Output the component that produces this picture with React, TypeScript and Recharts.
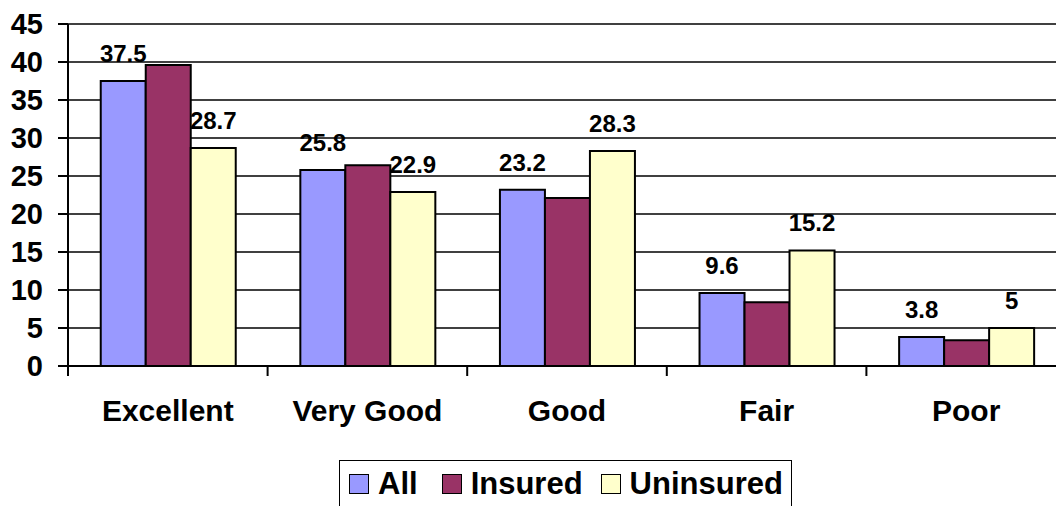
import { BarChart, Bar, XAxis, YAxis, CartesianGrid, LabelList } from 'recharts'

const categories = ['Excellent', 'Very Good', 'Good', 'Fair', 'Poor']
const allValues = [37.5, 25.8, 23.2, 9.6, 3.8]
const insuredValues = [39.6, 26.4, 22.1, 8.4, 3.4]
const uninsuredValues = [28.7, 22.9, 28.3, 15.2, 5]
const yTicks = [0, 5, 10, 15, 20, 25, 30, 35, 40, 45]

const COLORS = { all: '#9999FF', insured: '#993366', uninsured: '#FFFFCC' }
const FONT = '"Liberation Sans", Arial, sans-serif'

const CHART_W = 1066
const CHART_H = 506
const Y_AXIS_W = 68
const HALF_BAND = (CHART_W - Y_AXIS_W) / categories.length / 2

const data = categories.map((name, i) => ({
  name,
  all: allValues[i],
  insured: insuredValues[i],
  uninsured: uninsuredValues[i],
}))

function CategoryTick({ x, y, payload }: { x?: number; y?: number; payload?: { value: string } }) {
  const cx = x ?? 0
  const cy = y ?? 0
  return (
    <g>
      <line x1={cx - HALF_BAND} x2={cx - HALF_BAND} y1={cy} y2={cy + 10} stroke="#000" strokeWidth={2} />
      <text x={cx} y={cy + 55} textAnchor="middle" fontSize={30} fontWeight="bold" fontFamily={FONT} fill="#000">
        {payload?.value}
      </text>
    </g>
  )
}

const legendItems = [
  { label: 'All', color: COLORS.all },
  { label: 'Insured', color: COLORS.insured },
  { label: 'Uninsured', color: COLORS.uninsured },
]

function Legend() {
  return (
    <div
      style={{
        position: 'absolute',
        left: 339,
        top: 460,
        width: 453,
        height: 80,
        border: '1.5px solid #000',
        boxSizing: 'border-box',
        display: 'flex',
        alignItems: 'flex-start',
        paddingLeft: 9,
        paddingTop: 5,
        fontFamily: FONT,
        fontWeight: 'bold',
        fontSize: 31,
        lineHeight: '36px',
      }}
    >
      {legendItems.map((item, i) => (
        <div key={item.label} style={{ display: 'flex', alignItems: 'center', marginRight: i === 0 ? 24 : 18 }}>
          <span
            style={{
              display: 'inline-block',
              width: 20,
              height: 20,
              background: item.color,
              border: '1.5px solid #000',
              boxSizing: 'border-box',
              marginRight: 9,
            }}
          />
          <span>{item.label}</span>
        </div>
      ))}
    </div>
  )
}

const labelStyle = { fontSize: 24, fontWeight: 'bold', fontFamily: FONT, fill: '#000' }

export default function App() {
  return (
    <div style={{ position: 'fixed', left: 0, top: 0, width: 1056, height: 506, overflow: 'hidden', background: '#fff' }}>
      <BarChart
        width={CHART_W}
        height={CHART_H}
        data={data}
        margin={{ top: 24, right: 0, bottom: 0, left: 0 }}
        barCategoryGap="16.4%"
        barGap={0}
      >
        <CartesianGrid vertical={false} stroke="#000" strokeWidth={1.5} />
        <XAxis
          dataKey="name"
          height={140}
          tickSize={0}
          tickMargin={0}
          tickLine={false}
          axisLine={{ stroke: '#000', strokeWidth: 2 }}
          tick={<CategoryTick />}
          interval={0}
        />
        <YAxis
          width={Y_AXIS_W}
          domain={[0, 45]}
          ticks={yTicks}
          interval={0}
          tickSize={10}
          tickMargin={15}
          tickLine={{ stroke: '#000', strokeWidth: 2 }}
          axisLine={{ stroke: '#000', strokeWidth: 2 }}
          tick={{ fontSize: 29, fontWeight: 'bold', fontFamily: FONT, fill: '#000' }}
        />
        <Bar dataKey="all" fill={COLORS.all} stroke="#000" strokeWidth={2} isAnimationActive={false}>
          <LabelList dataKey="all" position="top" offset={19} style={labelStyle} />
        </Bar>
        <Bar dataKey="insured" fill={COLORS.insured} stroke="#000" strokeWidth={2} isAnimationActive={false} />
        <Bar dataKey="uninsured" fill={COLORS.uninsured} stroke="#000" strokeWidth={2} isAnimationActive={false}>
          <LabelList dataKey="uninsured" position="top" offset={19} style={labelStyle} />
        </Bar>
      </BarChart>
      <Legend />
    </div>
  )
}
